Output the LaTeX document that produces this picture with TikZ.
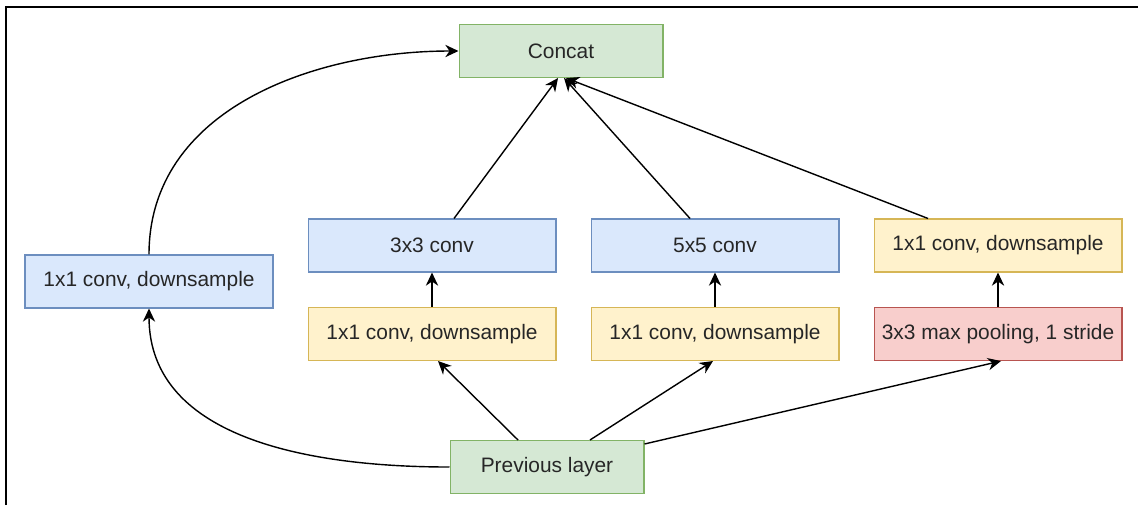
\documentclass[tikz,border=0pt]{standalone}
\usepackage{fontspec}
\setmainfont{Liberation Sans}
\usetikzlibrary{arrows.meta}
\definecolor{blueF}{HTML}{DAE8FC}\definecolor{blueD}{HTML}{6C8EBF}
\definecolor{yellowF}{HTML}{FFF2CC}\definecolor{yellowD}{HTML}{D6B656}
\definecolor{greenF}{HTML}{D5E8D4}\definecolor{greenD}{HTML}{82B366}
\definecolor{redF}{HTML}{F8CECC}\definecolor{redD}{HTML}{B85450}
\begin{document}
\begin{tikzpicture}[x=0.02cm, y=-0.02cm, >={Stealth[length=7.5pt, width=7pt, inset=2.4pt]}, line width=0.8pt,
		box/.style={rectangle, line width=0.6pt, minimum width=4.96cm, minimum height=1.06cm, inner sep=2pt,
			text=black!85, font=\fontsize{11.9}{14}\selectfont},
		bluebox/.style={box, fill=blueF, draw=blueD},
		yellowbox/.style={box, fill=yellowF, draw=yellowD},
		greenbox/.style={box, fill=greenF, draw=greenD},
		redbox/.style={box, fill=redF, draw=redD}]
	
	% --- 1. 边框 ---
	\useasboundingbox (0,0) rectangle (1138,505);
	\draw[line width=1.4pt] (6,505) -- (6,7) -- (1138,7);
	
	% --- 2. 方框 ---
	\node[greenbox, minimum width=4.08cm] (concat) at (561,51) {Concat};
	\node[bluebox] (left) at (149,281.5) {1x1 conv, downsample};
	\node[bluebox] (c33) at (432,245.5) {3x3 conv};
	\node[bluebox] (c55) at (715,245.5) {5x5 conv};
	\node[yellowbox] (ds3) at (998,245.5) {1x1 conv, downsample};
	\node[yellowbox] (ds1) at (432,334) {1x1 conv, downsample};
	\node[yellowbox] (ds2) at (715,334) {1x1 conv, downsample};
	\node[redbox] (pool) at (998,334) {3x3 max pooling, 1 stride};
	\node[greenbox, minimum width=3.88cm] (prev) at (547,467) {Previous layer};
	
	% --- 3. 连线 ---
	% 左侧分支 (曲线)
	\draw[->] (prev.west) to[out=180, in=-90] (left.south);
	\draw[->] (left.north) to[out=90, in=180] (concat.west);
	
	% 从上一层到各分支
	\draw[->] ([xshift=-0.58cm]prev.north) -- ([xshift=0.12cm]ds1.south);
	\draw[->] ([xshift=0.86cm]prev.north) -- ([xshift=-0.04cm]ds2.south);
	\draw[->] ([yshift=-0.08cm]prev.north east) -- ([xshift=0.06cm]pool.south);
	
	% 分支内部
	\draw[->] (ds1.north) -- (c33.south);
	\draw[->] (ds2.north) -- (c55.south);
	\draw[->] (pool.north) -- (ds3.south);
	
	% 汇合到 Concat
	\draw[->] ([xshift=0.44cm]c33.north) -- ([xshift=-0.06cm]concat.south);
	\draw[->] ([xshift=-0.5cm]c55.north) -- ([xshift=0.06cm]concat.south);
	\draw[->] ([xshift=-1.4cm]ds3.north) -- ([xshift=0.1cm]concat.south);
	
\end{tikzpicture}
\end{document}
